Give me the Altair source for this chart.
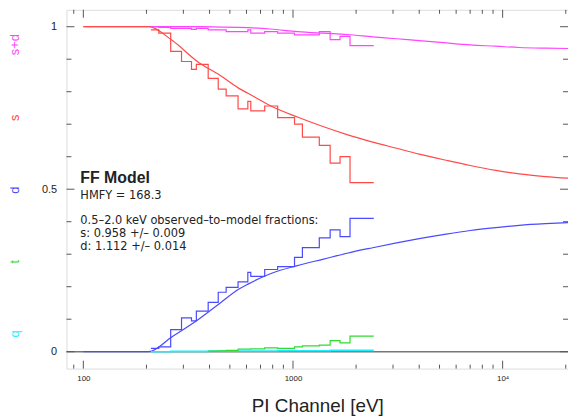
import altair as alt
import pandas as pd

# ---------------- data ----------------
# observed (step) fractions, bin edges in eV
bin_edges = [210, 229, 261, 294, 328, 346, 394, 440, 480, 547, 609, 629,
             733, 845, 1017, 1109, 1335, 1504, 1677, 1871, 2428]
obs_sd = [1.0, 0.998, 0.995, 0.995, 0.992, 0.995, 0.99, 0.99, 0.985, 0.985,
          0.99, 0.98, 0.985, 0.98, 0.975, 0.975, 0.985, 0.96, 0.97, 0.942]
obs_s = [0.99, 0.98, 0.924, 0.893, 0.869, 0.884, 0.841, 0.808, 0.787, 0.747,
         0.77, 0.741, 0.756, 0.72, 0.70, 0.66, 0.635, 0.58, 0.60, 0.52]
obs_d = [0.01, 0.015, 0.068, 0.104, 0.095, 0.125, 0.152, 0.183, 0.198, 0.215,
         0.244, 0.232, 0.253, 0.262, 0.29, 0.32, 0.35, 0.375, 0.354, 0.41]
obs_t = [None, None, None, None, None, None, 0.002, 0.003, 0.004, 0.008,
         0.008, 0.009, 0.012, 0.010, 0.015, 0.018, 0.020, 0.034, 0.027, 0.048]
obs_q = [0.0, 0.0, 0.001, 0.001, 0.001, 0.001, 0.002, 0.002, 0.002, 0.002,
         0.002, 0.002, 0.002, 0.003, 0.003, 0.003, 0.003, 0.004, 0.004, 0.004]

# model (smooth) fractions
model_energy = [100, 205, 265, 355, 450, 550, 610, 780, 1050, 1400, 1810,
                2400, 3120, 4000, 5380, 7000, 9270, 12000, 16000, 20500]
model_sd = [1.0, 1.0, 1.0, 1.0, 0.999, 0.998, 0.997, 0.993, 0.985, 0.98,
            0.976, 0.969, 0.963, 0.957, 0.95, 0.944, 0.94, 0.936, 0.934, 0.933]
model_s = [1.0, 1.0, 0.958, 0.89, 0.85, 0.811, 0.795, 0.757, 0.722, 0.692,
           0.668, 0.645, 0.626, 0.608, 0.589, 0.573, 0.558, 0.547, 0.539, 0.534]
model_d = [0.0, 0.0, 0.046, 0.10, 0.15, 0.192, 0.208, 0.24, 0.265, 0.285,
           0.303, 0.32, 0.335, 0.348, 0.362, 0.373, 0.382, 0.389, 0.394, 0.397]

series_names = ["s+d", "s", "d", "t", "q"]
series_colors = ["#ff45ff", "#ff4a4a", "#4a4aff", "#2fdc2f", "#19f0ff"]
label_y = [0.945, 0.72, 0.497, 0.277, 0.055]

x_major = [100, 1000, 10000]
x_minor = [90, 200, 300, 400, 500, 600, 700, 800, 900,
           2000, 3000, 4000, 5000, 6000, 7000, 8000, 9000, 20000]
y_major = [0, 0.5, 1]
y_minor = [0.1, 0.2, 0.3, 0.4, 0.6, 0.7, 0.8, 0.9]

annotations = [
    ("FF Model", 16, 162),
    ("HMFY = 168.3", 11.5, 182),
    ("0.5\u20132.0 keV observed\u2013to\u2013model fractions:", 11.5, 207),
    ("s: 0.958 +/\u2013 0.009", 11.5, 220),
    ("d: 1.112 +/\u2013 0.014", 11.5, 233),
]

# ---------------- chart ----------------
W, H = 506, 362
FONT = "Liberation Sans"
TFONT = "DejaVu Sans"
FRAME = "#555555"

xscale = alt.Scale(type="log", domain=[83.1, 20500], nice=False)
yscale = alt.Scale(domain=[-0.052, 1.052], nice=False, zero=False)

xaxis = alt.Axis(values=x_major, ticks=False, domain=False, grid=False,
                 labelExpr="datum.value >= 10000 ? '10\u2074' : format(datum.value, 'd')",
                 labelFontSize=8, labelPadding=6, labelFlush=False, labelOverlap=False,
                 labelColor="#222222", labelFont=FONT,
                 title="PI Channel [eV]", titleFontSize=19, titleFontWeight="normal",
                 titleFont=FONT, titleColor="#222222", titlePadding=14)
yaxis = alt.Axis(values=y_major, format="~g", ticks=False, domain=False, grid=False,
                 labelFontSize=11, labelPadding=10, labelColor="#222222",
                 labelFont=FONT, title=None)


def X(field):
    return alt.X(field, type="quantitative", scale=xscale, axis=xaxis)


def Y(field):
    return alt.Y(field, type="quantitative", scale=yscale, axis=yaxis)


layers = []

# zero reference line
zero_df = pd.DataFrame({"v": [0.0]})
layers.append(alt.Chart(zero_df).mark_rule(color="#777777", strokeWidth=1.5).encode(
    y=Y("v"), x=alt.value(0), x2=alt.value(W)))


# ticks
def xticks(vals, length):
    df = pd.DataFrame({"e": vals})
    bottom = alt.Chart(df).mark_rule(color=FRAME, strokeWidth=1).encode(
        x=X("e"), y=alt.value(H), y2=alt.value(H - length))
    top = alt.Chart(df).mark_rule(color=FRAME, strokeWidth=1).encode(
        x=X("e"), y=alt.value(0), y2=alt.value(length))
    return [bottom, top]


def yticks(vals, length):
    df = pd.DataFrame({"v": vals})
    left = alt.Chart(df).mark_rule(color=FRAME, strokeWidth=1).encode(
        y=Y("v"), x=alt.value(0), x2=alt.value(length))
    right = alt.Chart(df).mark_rule(color=FRAME, strokeWidth=1).encode(
        y=Y("v"), x=alt.value(W), x2=alt.value(W - length))
    return [left, right]


layers += xticks(x_major, 8) + xticks(x_minor, 4)
layers += yticks(y_major, 8) + yticks(y_minor, 5)

# model curves
model_series = [("s+d", model_sd), ("s", model_s), ("d", model_d)]
for name, vals in model_series:
    df = pd.DataFrame({"e": model_energy, "v": vals})
    col = series_colors[series_names.index(name)]
    layers.append(alt.Chart(df).mark_line(color=col, strokeWidth=1.2,
                                          interpolate="monotone").encode(
        x=X("e"), y=Y("v")))

# observed step curves
obs_series = [("q", obs_q), ("t", obs_t), ("d", obs_d), ("s", obs_s), ("s+d", obs_sd)]
for name, vals in obs_series:
    rows = []
    last = None
    for i, v in enumerate(vals):
        if v is None:
            continue
        rows.append({"e": bin_edges[i], "v": v})
        last = v
    rows.append({"e": bin_edges[-1], "v": last})
    df = pd.DataFrame(rows)
    col = series_colors[series_names.index(name)]
    width = 1.6 if name == "q" else 1.2
    layers.append(alt.Chart(df).mark_line(color=col, strokeWidth=width,
                                          interpolate="step-after").encode(
        x=X("e"), y=Y("v")))

# rotated series labels on the left
lab_df = pd.DataFrame({"name": series_names, "v": label_y})
layers.append(alt.Chart(lab_df).mark_text(angle=270, fontSize=13, font=FONT,
                                          align="center", baseline="middle").encode(
    y=Y("v"), x=alt.value(-52), text="name:N",
    color=alt.Color("name:N", scale=alt.Scale(domain=series_names, range=series_colors),
                    legend=None)))

# annotations
for txt, size, ypix in annotations:
    big = size > 12
    layers.append(alt.Chart(pd.DataFrame({"t": [txt]})).mark_text(
        fontSize=size, font=FONT if big else TFONT,
        align="left", baseline="top", color="#222222",
        fontWeight="bold" if big else "normal").encode(
        x=alt.value(14), y=alt.value(ypix), text="t:N"))

chart = alt.layer(*layers).properties(
    width=W, height=H,
    padding={"left": 59, "top": 0, "right": 0, "bottom": 47},
    autosize=alt.AutoSizeParams(type="none"),
).configure_view(stroke=FRAME, strokeWidth=1.2).configure(background="white")

chart.save("out.html", embed_options={"renderer": "svg", "actions": False})
